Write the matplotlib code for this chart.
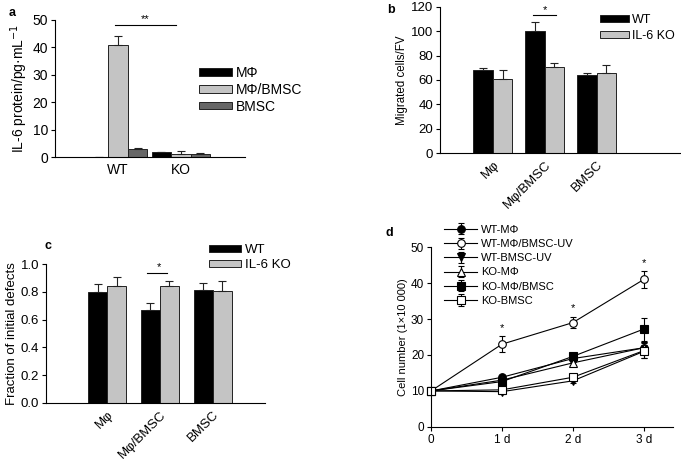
import numpy as np
import matplotlib
matplotlib.use("Agg")
import matplotlib.pyplot as plt

plt.rcParams['font.family'] = ['Liberation Sans', 'DejaVu Sans']
plt.rcParams['font.size'] = 9
plt.rcParams['axes.linewidth'] = 0.8

# --- datos panel a ---
grupos_a = ['WT', 'KO']
series_a = ['MΦ', 'MΦ/BMSC', 'BMSC']
valores_a = [[0.0, 1.8], [41.0, 1.2], [3.0, 1.3]]
errores_a = [[0.0, 0.2], [3.2, 1.2], [0.4, 0.4]]
colores_a = ['#000000', '#c4c4c4', '#666666']

# --- datos panel b ---
categorias = ['Mφ', 'Mφ/BMSC', 'BMSC']
wt_b = [68, 100, 64]
wt_b_err = [1.5, 8, 1.5]
ko_b = [61, 71, 66]
ko_b_err = [7.5, 3, 6.5]

# --- datos panel c ---
wt_c = [0.80, 0.67, 0.815]
wt_c_err = [0.06, 0.05, 0.05]
ko_c = [0.84, 0.845, 0.805]
ko_c_err = [0.07, 0.03, 0.07]

# --- datos panel d ---
dias = [0, 1, 2, 3]
etiquetas_dias = ['0', '1 d', '2 d', '3 d']
nombres_d = ['WT-MΦ', 'WT-MΦ/BMSC-UV', 'WT-BMSC-UV', 'KO-MΦ', 'KO-MΦ/BMSC', 'KO-BMSC']
curvas_d = [
    [10, 13.8, 19.0, 22.0],
    [10, 23.0, 29.0, 41.0],
    [10, 9.8, 12.8, 21.0],
    [10, 13.0, 17.8, 22.0],
    [10, 12.6, 19.6, 27.2],
    [10, 10.3, 13.8, 21.2],
]
errores_d = [
    [0, 0.6, 0.6, 1.5],
    [0, 2.2, 1.6, 2.3],
    [0, 0.6, 0.7, 1.8],
    [0, 0.6, 0.7, 1.5],
    [0, 0.6, 0.6, 3.2],
    [0, 0.6, 1.0, 2.0],
]
marcadores_d = ['o', 'o', 'v', '^', 's', 's']
relleno_d = ['k', 'white', 'k', 'white', 'k', 'white']

fig = plt.figure(figsize=(6.81, 4.61), dpi=100)


def estilo(ax, fs):
    ax.spines['top'].set_visible(False)
    ax.spines['right'].set_visible(False)
    ax.tick_params(length=3, width=0.8, labelsize=fs, pad=2)


# ---------- panel a ----------
ax = fig.add_axes([0.081, 0.659, 0.279, 0.298])
ancho = 0.31
x = np.arange(len(grupos_a))
for i, (nom, val, err, col) in enumerate(zip(series_a, valores_a, errores_a, colores_a)):
    pos = x + (i - 1) * ancho
    ax.bar(pos, val, ancho, color=col, edgecolor='#222222', linewidth=0.7, label=nom)
    ax.errorbar(pos, val, yerr=[np.zeros(len(val)), err], fmt='none', ecolor='#222222',
                elinewidth=0.8, capsize=3, capthick=0.8)
ax.set_xlim(-1.0, 2.02)
ax.set_ylim(0, 50)
ax.set_yticks([0, 10, 20, 30, 40, 50])
ax.set_xticks(x)
ax.set_xticklabels(grupos_a)
ax.set_ylabel('IL-6 protein/pg·mL$^{-1}$', labelpad=2, fontsize=10)
estilo(ax, 10)
ax.tick_params(axis='x', length=0, pad=4)
ax.plot([-0.05, 0.92], [48, 48], color='k', lw=0.8)
ax.text(0.43, 48.3, '**', ha='center', va='bottom', fontsize=8)
ax.legend(loc='center left', bbox_to_anchor=(0.69, 0.49), frameon=False, handlelength=2.4,
          handleheight=0.45, handletextpad=0.3, labelspacing=0.2, fontsize=10)
fig.text(0.013, 0.965, 'a', fontweight='bold', fontsize=9)

# ---------- panel b ----------
ax = fig.add_axes([0.646, 0.668, 0.352, 0.317])
ancho = 0.375
x = np.arange(len(categorias))
ax.bar(x - ancho / 2, wt_b, ancho, color='k', edgecolor='#222222', linewidth=0.7, label='WT')
ax.bar(x + ancho / 2, ko_b, ancho, color='#c4c4c4', edgecolor='#222222', linewidth=0.7, label='IL-6 KO')
ax.errorbar(x - ancho / 2, wt_b, yerr=[np.zeros(3), wt_b_err], fmt='none', ecolor='#222222',
            elinewidth=0.8, capsize=3, capthick=0.8)
ax.errorbar(x + ancho / 2, ko_b, yerr=[np.zeros(3), ko_b_err], fmt='none', ecolor='#222222',
            elinewidth=0.8, capsize=3, capthick=0.8)
ax.set_xlim(-1.02, 3.6)
ax.set_ylim(0, 120)
ax.set_yticks(range(0, 121, 20))
ax.set_xticks(x)
ax.set_xticklabels(categorias, rotation=45, ha='right', rotation_mode='anchor')
ax.set_ylabel('Migrated cells/FV', labelpad=2, fontsize=8.3)
estilo(ax, 9.5)
ax.tick_params(axis='x', length=0, pad=4)
ax.plot([0.77, 1.21], [113, 113], color='k', lw=0.8)
ax.text(1.0, 113.5, '*', ha='center', va='bottom', fontsize=8)
ax.legend(loc='upper left', bbox_to_anchor=(0.62, 1.03), frameon=False, handlelength=2.3,
          handleheight=0.45, handletextpad=0.3, labelspacing=0.35, fontsize=9)
fig.text(0.568, 0.972, 'b', fontweight='bold', fontsize=9)

# ---------- panel c ----------
ax = fig.add_axes([0.0675, 0.126, 0.322, 0.301])
ancho = 0.36
x = np.arange(len(categorias))
ax.bar(x - ancho / 2, wt_c, ancho, color='k', edgecolor='#222222', linewidth=0.7, label='WT')
ax.bar(x + ancho / 2, ko_c, ancho, color='#c4c4c4', edgecolor='#222222', linewidth=0.7, label='IL-6 KO')
ax.errorbar(x - ancho / 2, wt_c, yerr=[np.zeros(3), wt_c_err], fmt='none', ecolor='#222222',
            elinewidth=0.8, capsize=3, capthick=0.8)
ax.errorbar(x + ancho / 2, ko_c, yerr=[np.zeros(3), ko_c_err], fmt='none', ecolor='#222222',
            elinewidth=0.8, capsize=3, capthick=0.8)
ax.set_xlim(-1.16, 3.0)
ax.set_ylim(0, 1.0)
ax.set_yticks(np.arange(0, 1.01, 0.2))
ax.set_yticklabels(['%.1f' % v for v in np.arange(0, 1.01, 0.2)])
ax.set_xticks(x)
ax.set_xticklabels(categorias, rotation=45, ha='right', rotation_mode='anchor')
ax.set_ylabel('Fraction of initial defects', labelpad=2, fontsize=9.5)
estilo(ax, 9.5)
ax.tick_params(axis='x', length=0, pad=4)
ax.plot([0.75, 1.13], [0.935, 0.935], color='k', lw=0.8)
ax.text(0.98, 0.94, '*', ha='center', va='bottom', fontsize=8)
ax.legend(loc='upper left', bbox_to_anchor=(0.69, 1.23), frameon=False, handlelength=2.4,
          handleheight=0.45, handletextpad=0.3, labelspacing=0.25, fontsize=9.5)
fig.text(0.066, 0.46, 'c', fontweight='bold', fontsize=9)

# ---------- panel d ----------
ax = fig.add_axes([0.633, 0.074, 0.355, 0.39])
for nom, y, e, m, fc in zip(nombres_d, curvas_d, errores_d, marcadores_d, relleno_d):
    ax.errorbar(dias, y, yerr=e, color='k', lw=0.8, marker=m, markersize=5.5,
                markerfacecolor=fc, markeredgecolor='k', markeredgewidth=0.8,
                ecolor='k', elinewidth=0.8, capsize=2.5, capthick=0.8, label=nom, clip_on=False)
for d in [1, 2, 3]:
    ax.text(d, curvas_d[1][d] + errores_d[1][d] + 1.0, '*', ha='center', va='bottom', fontsize=8)
ax.set_xlim(0, 3.41)
ax.set_ylim(0, 50)
ax.set_yticks(range(0, 51, 10))
ax.set_xticks(dias)
ax.set_xticklabels(etiquetas_dias)
ax.set_ylabel('Cell number (1×10 000)', labelpad=2, fontsize=8)
estilo(ax, 8.5)
handles, labels = ax.get_legend_handles_labels()
ax.legend(handles, labels, loc='upper left', bbox_to_anchor=(0.012, 1.18), frameon=False,
          handlelength=3.0, handletextpad=0.3, labelspacing=0.38, fontsize=8)
fig.text(0.566, 0.487, 'd', fontweight='bold', fontsize=9)

fig.savefig('out.png', dpi=100)
